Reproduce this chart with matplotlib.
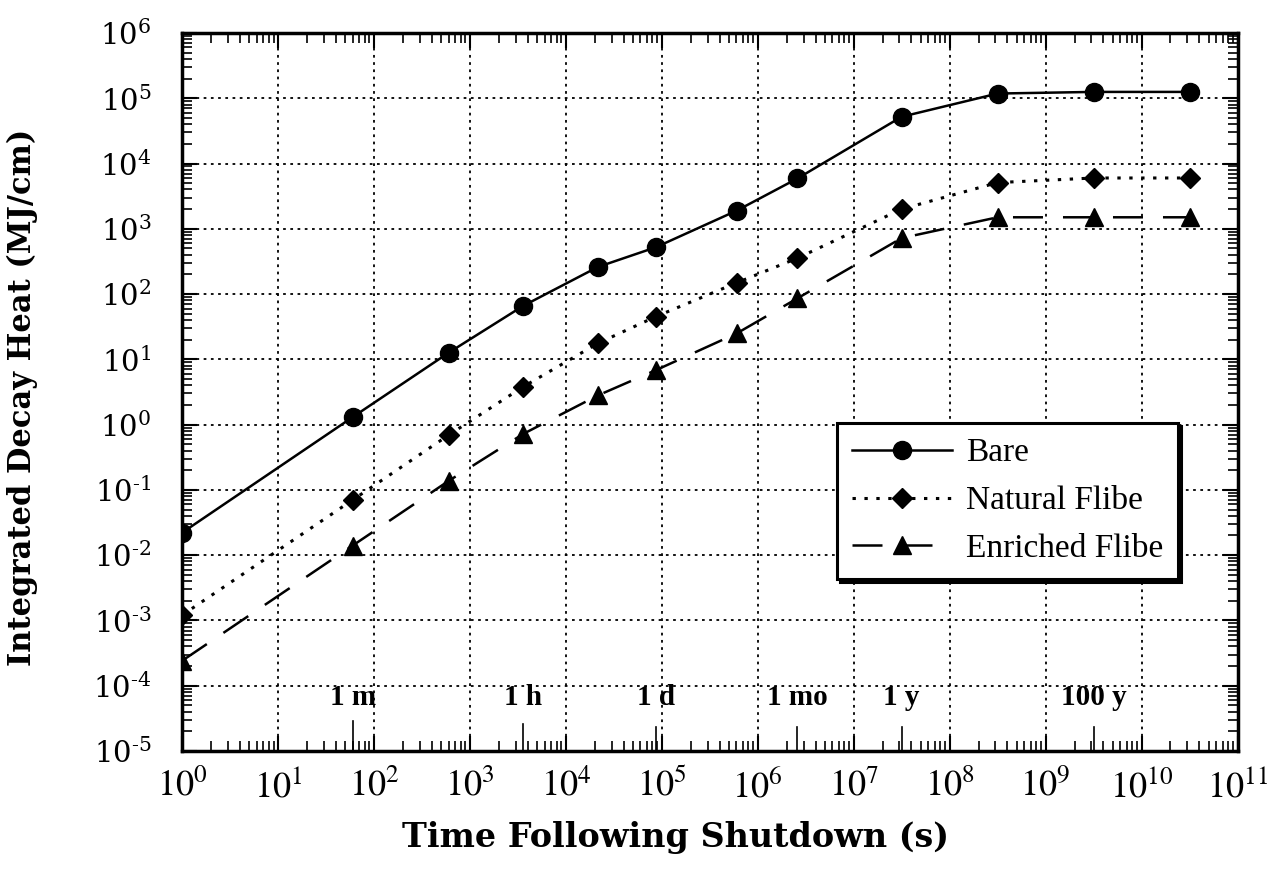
import numpy as np
import matplotlib
matplotlib.use("Agg")
from matplotlib import pyplot as plt
from matplotlib.ticker import LogLocator, NullFormatter, FixedLocator

plt.rcParams['font.family'] = ['Liberation Serif', 'DejaVu Serif']
plt.rcParams['mathtext.fontset'] = 'stix'

# time after shutdown (s): 1 s, 1 m, 10 m, 1 h, 6 h, 1 d, 1 w, 1 mo, 1 y, 10 y, 100 y, 1000 y
time_s = [1, 60, 600, 3600, 21600, 86400, 604800, 2.592e6, 3.156e7, 3.156e8, 3.156e9, 3.156e10]

bare = [0.022, 1.3, 12.6, 66, 260, 520, 1900, 5900, 52000, 118000, 125000, 125000]
natural_flibe = [0.0012, 0.07, 0.69, 3.8, 17.6, 45, 149, 355, 2000, 5100, 6000, 6000]
enriched_flibe = [0.00024, 0.014, 0.137, 0.72, 2.8, 6.8, 25, 86, 720, 1500, 1500, 1500]

x_exp = list(range(0, 12))
y_exp = list(range(-5, 7))

mark_times = [60, 3600, 86400, 2.592e6, 3.156e7, 3.156e9]
mark_labels = ['1 m', '1 h', '1 d', '1 mo', '1 y', '100 y']
mark_len = [0.042, 0.037, 0.034, 0.034, 0.034, 0.034]

fig = plt.figure(figsize=(12.68, 8.72), dpi=100)
ax = fig.add_axes([0.1435, 0.1388, 0.8325, 0.8234])

ax.plot(time_s, bare, '-', color='black', lw=1.8, marker='o', ms=13, label='Bare')
ax.plot(time_s, natural_flibe, color='black', lw=2.2, ls=(0, (1.1, 2.8)), marker='D', ms=10, label='Natural Flibe')
ax.plot(time_s, enriched_flibe, color='black', lw=1.8, ls=(0, (12, 8)), marker='^', ms=13, label='Enriched Flibe')

ax.set_xscale('log')
ax.set_yscale('log')
ax.set_xlim(1, 1e11)
ax.set_ylim(1e-5, 1e6)

ax.xaxis.set_major_locator(FixedLocator([10.0**k for k in x_exp]))
ax.yaxis.set_major_locator(FixedLocator([10.0**k for k in y_exp]))
ax.xaxis.set_minor_locator(LogLocator(base=10, subs=np.arange(2, 10), numticks=100))
ax.yaxis.set_minor_locator(LogLocator(base=10, subs=np.arange(2, 10), numticks=100))
ax.xaxis.set_minor_formatter(NullFormatter())
ax.yaxis.set_minor_formatter(NullFormatter())
ax.set_xticklabels([r'$10^{%d}$' % k for k in x_exp])
ax.set_yticklabels([('$10^{\u2010%d}$' % -k) if k < 0 else ('$10^{%d}$' % k) for k in y_exp])

ax.tick_params(which='both', direction='in', top=True, right=True, colors='black')
ax.tick_params(which='major', length=11, width=1.5)
ax.tick_params(axis='x', which='major', pad=13, labelsize=26)
ax.tick_params(axis='y', which='major', pad=22, labelsize=21)
ax.tick_params(which='minor', length=7, width=1.2)
for lab in ax.get_yticklabels():
    lab.set_math_fontfamily('dejavuserif')
for sp in ax.spines.values():
    sp.set_linewidth(2.5)

ax.grid(True, which='major', color='black', ls=(0, (1.5, 2.5)), lw=1.3)

# time markers on the bottom axis
for t, lab, ln in zip(mark_times, mark_labels, mark_len):
    ax.axvline(t, ymin=0, ymax=ln, color='black', lw=1.2)
    ax.text(t, 0.075, lab, transform=ax.get_xaxis_transform(), ha='center', va='center',
            fontsize=21, fontweight='bold')

ax.set_xlabel('Time Following Shutdown (s)', fontsize=24, fontweight='bold', family='DejaVu Serif')
ax.set_ylabel('Integrated Decay Heat (MJ/cm)', fontsize=22, fontweight='bold', family='DejaVu Serif')
ax.xaxis.set_label_coords(0.468, -0.097)
ax.yaxis.set_label_coords(-0.136, 0.492)

leg = ax.legend(loc='upper left', bbox_to_anchor=(0.621, 0.457), borderaxespad=0, fontsize=24,
                handlelength=3.0, labelspacing=0.52, handletextpad=0.4, borderpad=0.45, fancybox=False,
                framealpha=1, edgecolor='black', shadow={'color': 'black', 'alpha': 1})
leg.get_frame().set_linewidth(2.2)

fig.savefig('out.png', dpi=100)
